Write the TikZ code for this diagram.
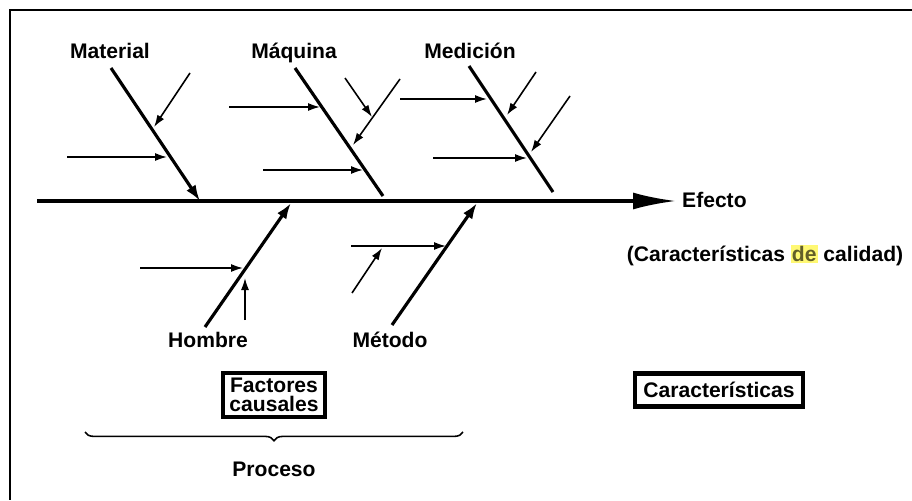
\documentclass[tikz,border=0pt]{standalone}
\usepackage{fontspec}
\setmainfont{Liberation Sans}
\usetikzlibrary{arrows.meta,decorations.pathreplacing}
\tikzset{
  bone/.style={line width=1.8pt},
  tipbone/.style={bone,-{Latex[length=3.2mm,width=2.2mm]}},
  cause/.style={line width=0.9pt,-{Latex[length=2.4mm,width=1.6mm]}},
  lbl/.style={font=\bfseries\large,text height=1.8ex,text depth=0.45ex},
  boxlbl/.style={draw,line width=2.6pt,font=\bfseries\large,inner sep=1.5pt,align=center}
}

\begin{document}
\begin{tikzpicture}[x=0.02cm,y=-0.02cm]
                        \useasboundingbox (0,0) rectangle (912,500);
                        \draw[line width=1.2pt] (912,10) -- (10,10) -- (10,500);
                        % espina y efecto
                        \coordinate (cola) at (37,201);
                        \node[lbl,anchor=west] (efecto) at (676,201) {Efecto};
                        \draw[bone,-{Latex[length=8.6mm,width=3.4mm]}] (cola) -- (efecto.west);
                        \node[lbl] (calidad) at (765,255) {(Características {\setlength\fboxsep{0.6pt}\colorbox{yellow!55}{\textcolor{olive!60!black}{de}}} calidad)};
                        % Material
                        \node[lbl] (material) at (110,52) {Material};
                        \coordinate (mat1) at (111,68);
                        \coordinate (mat2) at (200,201);
                        \draw[tipbone] (mat1) -- (mat2);
                        \coordinate (ma) at (190,73);  \coordinate (mb) at (154,127);
                        \coordinate (mc) at (67,157);  \coordinate (md) at (167,157);
                        \draw[cause] (ma) -- (mb);
                        \draw[cause] (mc) -- (md);
                        % Maquina
                        \node[lbl] (maquina) at (294,52) {Máquina};
                        \coordinate (maq1) at (295,68);
                        \coordinate (maq2) at (383,196);
                        \draw[bone] (maq1) -- (maq2);
                        \coordinate (qa) at (229,107); \coordinate (qb) at (320,107);
                        \coordinate (qc) at (400,79);  \coordinate (qd) at (353,145);
                        \coordinate (qe) at (345,78);  \coordinate (qf) at (372,117);
                        \coordinate (qg) at (263,170); \coordinate (qh) at (363,170);
                        \draw[cause] (qa) -- (qb);
                        \draw[cause] (qc) -- (qd);
                        \draw[cause] (qe) -- (qf);
                        \draw[cause] (qg) -- (qh);
                        % Medicion
                        \node[lbl] (medicion) at (470,52) {Medición};
                        \coordinate (med1) at (469,66);
                        \coordinate (med2) at (553,192);
                        \draw[bone] (med1) -- (med2);
                        \coordinate (da) at (400,99);  \coordinate (db) at (487,99);
                        \coordinate (dc) at (536,72);  \coordinate (dd) at (507,115);
                        \coordinate (de) at (570,96);  \coordinate (df) at (531,152);
                        \coordinate (dg) at (433,158); \coordinate (dh) at (527,158);
                        \draw[cause] (da) -- (db);
                        \draw[cause] (dc) -- (dd);
                        \draw[cause] (de) -- (df);
                        \draw[cause] (dg) -- (dh);
                        % Hombre
                        \node[lbl] (hombre) at (208,341) {Hombre};
                        \coordinate (hom1) at (205,327);
                        \coordinate (hom2) at (291,203);
                        \draw[tipbone] (hom1) -- (hom2);
                        \coordinate (ha) at (140,268); \coordinate (hb) at (243,268);
                        \coordinate (hc) at (245,320); \coordinate (hd) at (245,278);
                        \draw[cause] (ha) -- (hb);
                        \draw[cause] (hc) -- (hd);
                        % Metodo
                        \node[lbl] (metodo) at (390,341) {Método};
                        \coordinate (met1) at (392,325);
                        \coordinate (met2) at (477,203);
                        \draw[tipbone] (met1) -- (met2);
                        \coordinate (ta) at (351,246); \coordinate (tb) at (446,246);
                        \coordinate (tc) at (352,293); \coordinate (td) at (382,248);
                        \draw[cause] (ta) -- (tb);
                        \draw[cause] (tc) -- (td);
                        % recuadros y llave
                        \node[boxlbl,minimum width=2.04cm,minimum height=0.88cm] (factores) at (274,395) {Factores\\[-3pt]causales};
                        \node[boxlbl,minimum width=3.36cm,minimum height=0.66cm] (caract) at (719,390) {Características};
                        \coordinate (llave1) at (463,432);
                        \coordinate (llave2) at (85,432);
                        \draw[line width=0.9pt,decorate,decoration={brace,amplitude=5pt}] (llave1) -- (llave2);
                        \node[lbl] (proceso) at (274,470) {Proceso};
                \end{tikzpicture}
\end{document}
